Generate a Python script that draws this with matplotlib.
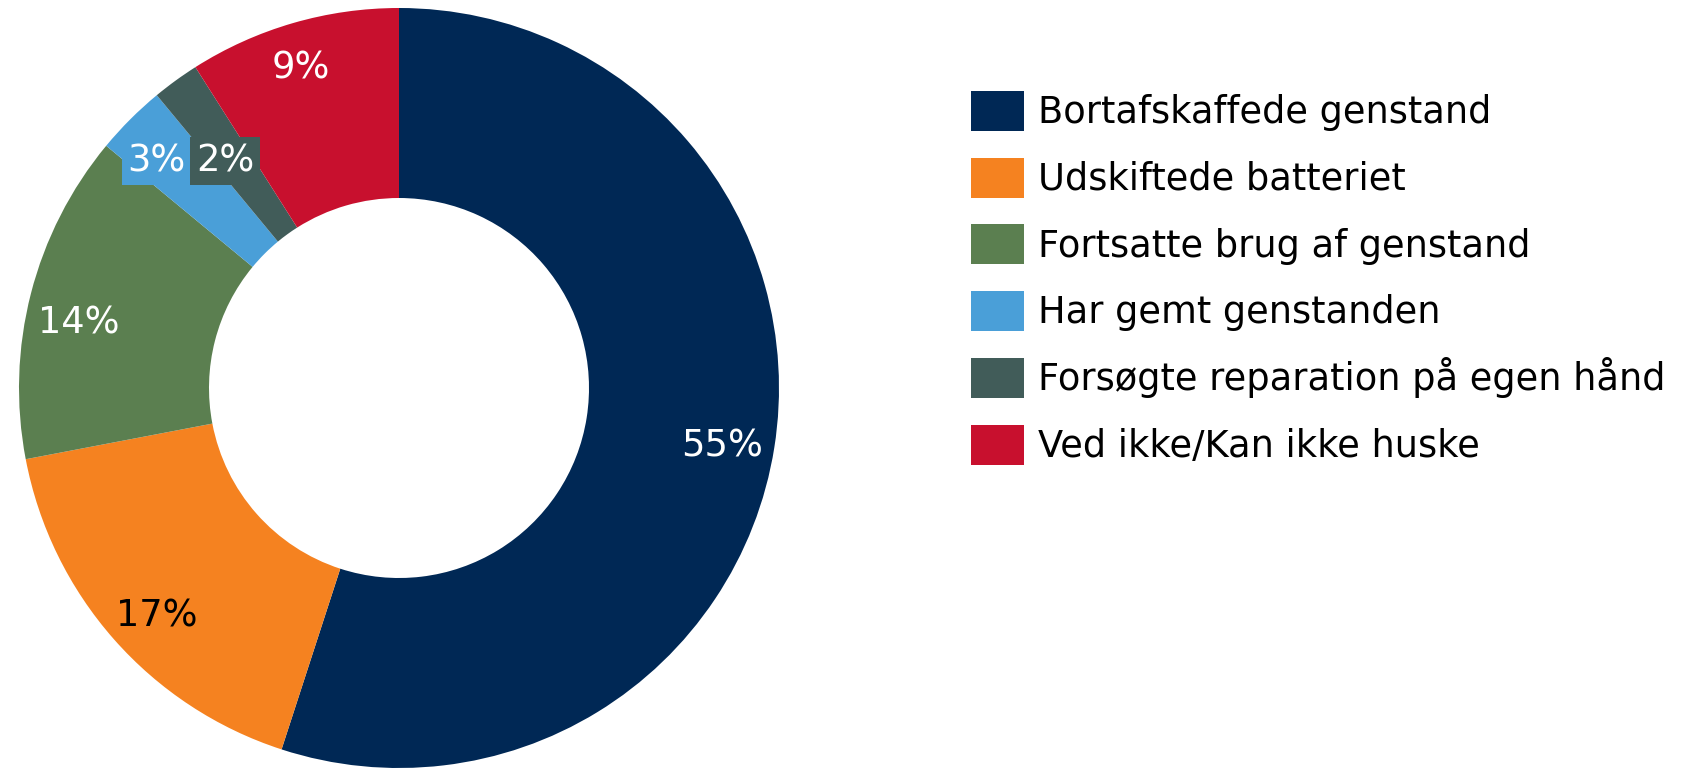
import matplotlib
matplotlib.use("Agg")
import matplotlib.pyplot as plt
import matplotlib.transforms as mtrans
from matplotlib.patches import Rectangle
import numpy as np

categories = ["Bortafskaffede genstand", "Udskiftede batteriet", "Fortsatte brug af genstand",
              "Har gemt genstanden", "Forsøgte reparation på egen hånd", "Ved ikke/Kan ikke huske"]
values = [55, 17, 14, 3, 2, 9]
labels = ["55%", "17%", "14%", "3%", "2%", "9%"]
colors = ["#002855", "#F58220", "#5B7F50", "#4A9FD8", "#415C59", "#C8102E"]
text_colors = ["white", "black", "white", "white", "white", "white"]
# label placement (style): radius fraction and angular nudge in degrees
label_r = [0.862, 0.871, 0.862, 0.879, 0.759, 0.888]
label_dang = [-0.6, 1.5, 2.4, 1.5, 1.1, 0.7]
boxed = [False, False, False, True, True, False]

plt.rcParams['font.family'] = ['DejaVu Sans']
FS = 26.5
W, H = 1698, 768
fig = plt.figure(figsize=(W / 100, H / 100), dpi=100)
cx, cy, R = 399, 388, 380
ax = fig.add_axes([(cx - R) / W, (H - cy - R) / H, 2 * R / W, 2 * R / H])
wedges, _ = ax.pie(values, colors=colors, startangle=90, counterclock=False,
                   radius=1.0, wedgeprops=dict(width=0.5, linewidth=0))
ax.set_xlim(-1, 1)
ax.set_ylim(-1, 1)
ax.set_aspect('equal')
ax.axis('off')

# shift so that digits are vertically centred on the anchor point
down = mtrans.ScaledTranslation(0, -0.3645 * FS / 72, fig.dpi_scale_trans)
total = sum(values)
cum = 0
for v, lab, tc, r, da, bx, col in zip(values, labels, text_colors, label_r, label_dang, boxed, colors):
    mid = 90 - (cum + v / 2) / total * 360 + da
    cum += v
    x, y = r * np.cos(np.radians(mid)), r * np.sin(np.radians(mid))
    kw = {}
    if bx:
        kw['bbox'] = dict(boxstyle='square,pad=0.15', facecolor=col, edgecolor='none')
    ax.text(x, y, lab, ha='center', va='baseline', color=tc, fontsize=FS,
            transform=ax.transData + down, **kw)

# legend drawn manually (pixel layout from the top-left corner)
row0, row_step = 111, 66.7
sq_x0, sq_w, sq_h = 971, 53, 40
txt_x = 1038
for i, (cat, col) in enumerate(zip(categories, colors)):
    yc = row0 + i * row_step
    fig.add_artist(Rectangle((sq_x0 / W, 1 - (yc + sq_h / 2) / H), sq_w / W, sq_h / H,
                             transform=fig.transFigure, facecolor=col, edgecolor='none'))
    fig.text(txt_x / W, 1 - (yc + 12.3) / H, cat, ha='left', va='baseline',
             fontsize=FS, color='black')

fig.savefig("out.png", dpi=100)
